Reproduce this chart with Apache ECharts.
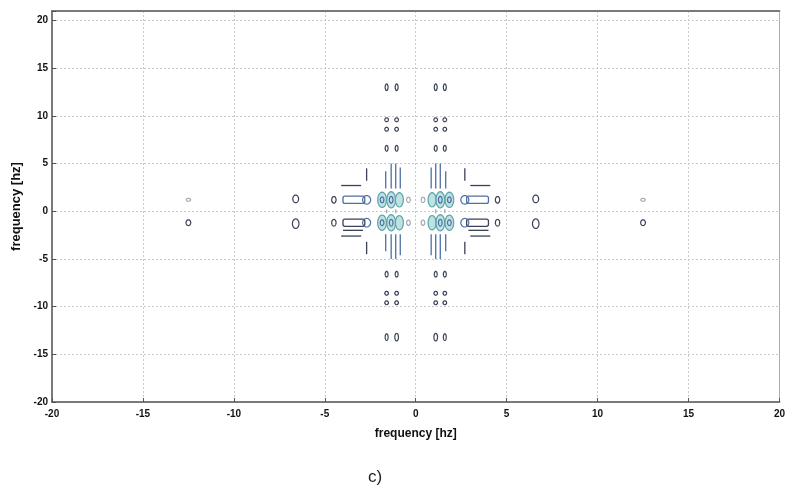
<!DOCTYPE html>
<html><head><meta charset="utf-8">
<script src="https://cdn.jsdelivr.net/npm/echarts@6/dist/echarts.min.js"></script>
<style>html,body{margin:0;padding:0;background:#fff}#c{width:788px;height:493px}</style>
</head><body><div id="c"></div>
<script>
// Axis ticks
const xTicks = [-20, -15, -10, -5, 0, 5, 10, 15, 20];
const yTicks = [-20, -15, -10, -5, 0, 5, 10, 15, 20];
const axisTitle = 'frequency [hz]';
const panelLabel = 'c)';

// Contour ovals: [fx, fy, halfWidth, halfHeight, level]
const tealOvals = [
  [-1.85, 1.2, 0.24, 0.8, 2], [-1.35, 1.2, 0.24, 0.85, 2], [-0.9, 1.2, 0.22, 0.75, 2],
  [0.9, 1.2, 0.22, 0.75, 2], [1.35, 1.2, 0.24, 0.85, 2], [1.85, 1.2, 0.24, 0.8, 2],
  [-1.85, -1.2, 0.24, 0.8, 2], [-1.35, -1.2, 0.24, 0.85, 2], [-0.9, -1.2, 0.22, 0.75, 2],
  [0.9, -1.2, 0.22, 0.75, 2], [1.35, -1.2, 0.24, 0.85, 2], [1.85, -1.2, 0.24, 0.8, 2]
];
const rowOvals = [
  [-12.5, 1.2, 0.12, 0.15, 3], [-12.5, -1.2, 0.13, 0.3, 0],
  [12.5, 1.2, 0.12, 0.15, 3], [12.5, -1.2, 0.13, 0.3, 0],
  [-6.6, 1.3, 0.16, 0.4, 0], [-6.6, -1.3, 0.18, 0.5, 0],
  [6.6, 1.3, 0.16, 0.4, 0], [6.6, -1.3, 0.18, 0.5, 0],
  [-4.5, 1.2, 0.12, 0.35, 0], [-4.5, -1.2, 0.12, 0.35, 0],
  [4.5, 1.2, 0.12, 0.35, 0], [4.5, -1.2, 0.12, 0.35, 0],
  [-2.7, 1.2, 0.22, 0.45, 1], [2.7, 1.2, 0.22, 0.45, 1],
  [-2.7, -1.2, 0.22, 0.45, 1], [2.7, -1.2, 0.22, 0.45, 1],
  [-1.35, 1.2, 0.1, 0.35, 1], [1.35, 1.2, 0.1, 0.35, 1],
  [-1.35, -1.2, 0.1, 0.35, 1], [1.35, -1.2, 0.1, 0.35, 1],
  [-1.85, 1.2, 0.1, 0.3, 1], [1.85, 1.2, 0.1, 0.3, 1],
  [-1.85, -1.2, 0.1, 0.3, 1], [1.85, -1.2, 0.1, 0.3, 1],
  [-0.4, 1.2, 0.1, 0.28, 3], [0.4, 1.2, 0.1, 0.28, 3],
  [-0.4, -1.2, 0.1, 0.28, 3], [0.4, -1.2, 0.1, 0.28, 3]
];
const columnOvals = [
  [-1.6, 13, 0.08, 0.35, 0], [-1.05, 13, 0.08, 0.35, 0], [1.1, 13, 0.08, 0.35, 0], [1.6, 13, 0.08, 0.35, 0],
  [-1.6, 9.6, 0.1, 0.2, 0], [-1.05, 9.6, 0.1, 0.2, 0], [1.1, 9.6, 0.1, 0.2, 0], [1.6, 9.6, 0.1, 0.2, 0],
  [-1.6, 8.6, 0.1, 0.2, 0], [-1.05, 8.6, 0.1, 0.2, 0], [1.1, 8.6, 0.1, 0.2, 0], [1.6, 8.6, 0.1, 0.2, 0],
  [-1.6, 6.6, 0.08, 0.3, 0], [-1.05, 6.6, 0.08, 0.3, 0], [1.1, 6.6, 0.08, 0.3, 0], [1.6, 6.6, 0.08, 0.3, 0],
  [-1.6, -6.6, 0.08, 0.3, 0], [-1.05, -6.6, 0.08, 0.3, 0], [1.1, -6.6, 0.08, 0.3, 0], [1.6, -6.6, 0.08, 0.3, 0],
  [-1.6, -8.6, 0.1, 0.2, 0], [-1.05, -8.6, 0.1, 0.2, 0], [1.1, -8.6, 0.1, 0.2, 0], [1.6, -8.6, 0.1, 0.2, 0],
  [-1.6, -9.6, 0.1, 0.2, 0], [-1.05, -9.6, 0.1, 0.2, 0], [1.1, -9.6, 0.1, 0.2, 0], [1.6, -9.6, 0.1, 0.2, 0],
  [-1.6, -13.2, 0.08, 0.35, 0], [-1.05, -13.2, 0.1, 0.4, 0], [1.1, -13.2, 0.1, 0.4, 0], [1.6, -13.2, 0.08, 0.35, 0]
];
// Rectangular contours: [fx, fy, halfWidth, halfHeight, level]
const boxes = [
  [-3.4, 1.2, 0.6, 0.38, 1], [3.4, 1.2, 0.6, 0.38, 1],
  [-3.4, -1.2, 0.6, 0.38, 0], [3.4, -1.2, 0.6, 0.38, 0]
];
// Contour strokes: [fx1, fy1, fx2, fy2, level]
const strokes = [
  [-4.1, 2.7, -3.0, 2.7, 0], [3.0, 2.7, 4.1, 2.7, 0],
  [-4.1, -2.6, -3.0, -2.6, 0], [3.0, -2.6, 4.1, -2.6, 0],
  [-4.0, -2.0, -2.9, -2.0, 0], [2.9, -2.0, 4.0, -2.0, 0],
  [-2.7, 3.2, -2.7, 4.5, 0], [2.7, 3.2, 2.7, 4.5, 0],
  [-2.7, -3.2, -2.7, -4.5, 0], [2.7, -3.2, 2.7, -4.5, 0],
  [-1.65, 2.4, -1.65, 4.2, 1], [-1.35, 2.4, -1.35, 5.0, 1], [-1.1, 2.4, -1.1, 5.0, 1], [-0.85, 2.4, -0.85, 4.6, 1],
  [1.65, 2.4, 1.65, 4.2, 1], [1.35, 2.4, 1.35, 5.0, 1], [1.1, 2.4, 1.1, 5.0, 1], [0.85, 2.4, 0.85, 4.6, 1],
  [-1.65, -2.4, -1.65, -4.2, 1], [-1.35, -2.4, -1.35, -5.0, 1], [-1.1, -2.4, -1.1, -5.0, 1], [-0.85, -2.4, -0.85, -4.6, 1],
  [1.65, -2.4, 1.65, -4.2, 1], [1.35, -2.4, 1.35, -5.0, 1], [1.1, -2.4, 1.1, -5.0, 1], [0.85, -2.4, 0.85, -4.6, 1],
  [-1.6, -0.2, -1.6, 0.2, 3], [-1.1, -0.2, -1.1, 0.2, 3], [1.1, -0.2, 1.1, 0.2, 3], [1.6, -0.2, 1.6, 0.2, 3]
];

const STROKE = ['#3b4257', '#4d6fa3', '#5aa5a8', '#a3a8b3'];
const FILL = [null, null, 'rgba(150,205,210,0.6)', null];
const FONT = '"Liberation Sans", Arial, sans-serif';

function ovalItem(params, api) {
  const c = api.coord([api.value(0), api.value(1)]);
  const s = api.size([api.value(2), api.value(3)]);
  const lv = api.value(4);
  const pts = [];
  for (let i = 0; i < 28; i++) {
    const a = i / 28 * 2 * Math.PI;
    pts.push([c[0] + s[0] * Math.cos(a), c[1] + s[1] * Math.sin(a)]);
  }
  return { type: 'polygon', shape: { points: pts },
    style: { stroke: STROKE[lv], fill: FILL[lv] || 'none', lineWidth: 1.2 } };
}
function boxItem(params, api) {
  const c = api.coord([api.value(0), api.value(1)]);
  const s = api.size([api.value(2), api.value(3)]);
  const lv = api.value(4);
  return { type: 'rect', shape: { x: c[0] - s[0], y: c[1] - s[1], width: 2 * s[0], height: 2 * s[1], r: 2 },
    style: { stroke: STROKE[lv], fill: 'none', lineWidth: 1.3 } };
}
function strokeItem(params, api) {
  const a = api.coord([api.value(0), api.value(1)]);
  const b = api.coord([api.value(2), api.value(3)]);
  const lv = api.value(4);
  return { type: 'line', shape: { x1: a[0], y1: a[1], x2: b[0], y2: b[1] },
    style: { stroke: STROKE[lv], lineWidth: 1.3 } };
}

const labelStyle = { color: '#111', fontWeight: 'bold', fontSize: 10, fontFamily: FONT };
const nameStyle = { color: '#111', fontWeight: 'bold', fontSize: 12, fontFamily: FONT };
const splitStyle = { color: '#cacaca', type: [2, 2], width: 1 };
const fmt = v => (v % 5 === 0 && v >= -20 && v <= 20) ? String(v) : '';

const chart = echarts.init(document.getElementById('c'), null, { renderer: 'canvas' });
chart.setOption({
  backgroundColor: '#fff',
  animation: false,
  grid: { left: 52, right: 7, top: 11, bottom: 91 },
  xAxis: [
    { type: 'value', min: xTicks[0], max: xTicks[xTicks.length - 1], interval: 5, position: 'bottom',
      axisLine: { show: true, onZero: false, lineStyle: { color: '#7a7a7a', width: 2 } },
      axisTick: { show: true, inside: true, length: 4, lineStyle: { color: '#555' } },
      axisLabel: Object.assign({ margin: 7, formatter: fmt }, labelStyle),
      splitLine: { show: true, lineStyle: splitStyle },
      name: axisTitle, nameLocation: 'middle', nameGap: 26, nameTextStyle: nameStyle },
    { type: 'value', min: -20, max: 20, position: 'top',
      axisLine: { show: true, onZero: false, lineStyle: { color: '#7a7a7a', width: 2 } },
      axisTick: { show: false }, axisLabel: { show: false }, splitLine: { show: false } }
  ],
  yAxis: [
    { type: 'value', min: yTicks[0], max: 21, interval: 5, position: 'left',
      axisLine: { show: true, onZero: false, lineStyle: { color: '#7a7a7a', width: 2 } },
      axisTick: { show: true, inside: true, length: 4, lineStyle: { color: '#555' } },
      axisLabel: Object.assign({ margin: 4, formatter: fmt }, labelStyle),
      splitLine: { show: true, lineStyle: splitStyle },
      name: axisTitle, nameLocation: 'middle', nameGap: 27, nameRotate: 90,
      nameTextStyle: Object.assign({}, nameStyle, { fontSize: 13 }) },
    { type: 'value', min: -20, max: 21, position: 'right',
      axisLine: { show: true, onZero: false, lineStyle: { color: '#b0b0b0', width: 1 } },
      axisTick: { show: false }, axisLabel: { show: false }, splitLine: { show: false } }
  ],
  graphic: [{ type: 'text', left: 368, top: 469,
    style: { text: panelLabel, fontSize: 17, fontFamily: FONT, fill: '#222' } }],
  series: [
    { type: 'custom', renderItem: ovalItem, data: tealOvals, encode: { x: 0, y: 1 }, silent: true, z: 2 },
    { type: 'custom', renderItem: boxItem, data: boxes, encode: { x: 0, y: 1 }, silent: true, z: 3 },
    { type: 'custom', renderItem: ovalItem, data: rowOvals, encode: { x: 0, y: 1 }, silent: true, z: 3 },
    { type: 'custom', renderItem: ovalItem, data: columnOvals, encode: { x: 0, y: 1 }, silent: true, z: 3 },
    { type: 'custom', renderItem: strokeItem, data: strokes, encode: { x: 0, y: 1 }, silent: true, z: 3 }
  ]
});
</script></body></html>
